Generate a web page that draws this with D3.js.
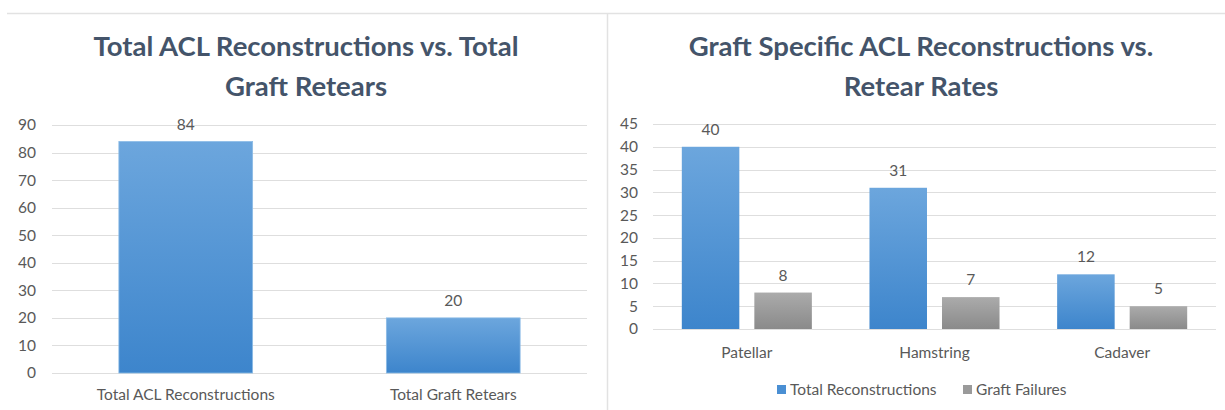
<!DOCTYPE html>
<html>
<head>
<meta charset="utf-8">
<script src="https://cdn.jsdelivr.net/npm/d3@7"></script>
<style>
  body { margin: 0; background: #fff; }
  text { font-family: Lato, "Open Sans", sans-serif; }
</style>
</head>
<body>
<svg id="chart" width="1225" height="410"></svg>
<script>
"use strict";

// left chart
var totalCategories = ["Total ACL Reconstructions", "Total Graft Retears"];
var totalValues = [84, 20];
var totalTicks = [0, 10, 20, 30, 40, 50, 60, 70, 80, 90];

// right chart
var graftCategories = ["Patellar", "Hamstring", "Cadaver"];
var seriesNames = ["Total Reconstructions", "Graft Failures"];
var reconstructions = [40, 31, 12];
var failures = [8, 7, 5];
var graftTicks = [0, 5, 10, 15, 20, 25, 30, 35, 40, 45];

var svg = d3.select("#chart");
var defs = svg.append("defs");
var smallFont = "15.5px";

function gradient(id, top, bottom) {
	var g = defs.append("linearGradient").attr("id", id)
		.attr("x1", 0).attr("y1", 0).attr("x2", 0).attr("y2", 1);
	g.append("stop").attr("offset", "0%").attr("stop-color", top);
	g.append("stop").attr("offset", "100%").attr("stop-color", bottom);
}
gradient("blueGrad", "#6ca6dd", "#3d85cc");
gradient("grayGrad", "#ababab", "#8a8a8a");

var seriesFill = ["url(#blueGrad)", "url(#grayGrad)"];
var legendColor = ["#4a8fd3", "#9a9a9a"];

// frame lines
svg.append("line").attr("x1", 7).attr("x2", 1225).attr("y1", 13.5).attr("y2", 13.5)
	.attr("stroke", "#e2e2e2").attr("stroke-width", 1.5);
svg.append("line").attr("x1", 607.5).attr("x2", 607.5).attr("y1", 13).attr("y2", 410)
	.attr("stroke", "#e2e2e2").attr("stroke-width", 1.5);

function title(cx, lines) {
	var t = svg.append("text")
		.attr("text-anchor", "middle")
		.attr("fill", "#44546a")
		.attr("font-weight", "bold")
		.attr("font-size", "27.5px");
	lines.forEach(function (s, i) {
		t.append("tspan").attr("x", cx).attr("y", 56 + i * 40).text(s);
	});
}

function yAxis(y, ticks, x0, x1, labelX) {
	var g = svg.append("g");
	g.selectAll("line.grid").data(ticks).enter().append("line")
		.attr("class", "grid")
		.attr("x1", x0).attr("x2", x1)
		.attr("y1", function (d) { return Math.round(y(d)) + 0.5; })
		.attr("y2", function (d) { return Math.round(y(d)) + 0.5; })
		.attr("stroke", "#dedede").attr("stroke-width", 1);
	g.selectAll("text").data(ticks).enter().append("text")
		.attr("x", labelX)
		.attr("y", function (d) { return y(d); })
		.attr("dy", "0.35em")
		.attr("text-anchor", "end")
		.attr("fill", "#595959")
		.attr("font-size", smallFont)
		.text(function (d) { return d; });
}

// ---- left chart ----
title(306, ["Total ACL Reconstructions vs. Total", "Graft Retears"]);

var yL = d3.scaleLinear().domain([0, 90]).range([373, 125]);
var xL = d3.scaleBand().domain(totalCategories).range([52, 587]).paddingInner(0.5).paddingOuter(0.25);

yAxis(yL, totalTicks, 52, 587, 36);

svg.append("g").selectAll("rect").data(totalValues).enter().append("rect")
	.attr("x", function (d, i) { return xL(totalCategories[i]); })
	.attr("width", xL.bandwidth())
	.attr("y", function (d) { return yL(d); })
	.attr("height", function (d) { return yL(0) - yL(d); })
	.attr("fill", "url(#blueGrad)")
	.attr("stroke", "#8bbbe6").attr("stroke-width", 0.8);

svg.append("g").selectAll("text").data(totalValues).enter().append("text")
	.attr("x", function (d, i) { return xL(totalCategories[i]) + xL.bandwidth() / 2; })
	.attr("y", function (d) { return yL(d) - 12; })
	.attr("text-anchor", "middle")
	.attr("fill", "#595959")
	.attr("font-size", smallFont)
	.text(function (d) { return d; });

svg.append("g").selectAll("text").data(totalCategories).enter().append("text")
	.attr("x", function (d) { return xL(d) + xL.bandwidth() / 2; })
	.attr("y", 400)
	.attr("text-anchor", "middle")
	.attr("fill", "#595959")
	.attr("font-size", smallFont)
	.text(function (d) { return d; });

// ---- right chart ----
title(921, ["Graft Specific ACL Reconstructions vs.", "Retear Rates"]);

var yR = d3.scaleLinear().domain([0, 45]).range([329, 124]);
var x0 = d3.scaleBand().domain(graftCategories).range([653, 1216]).paddingInner(0.307).paddingOuter(0.1535);
var x1 = d3.scaleBand().domain(seriesNames).range([0, x0.bandwidth()]).paddingInner(0.207);

yAxis(yR, graftTicks, 653, 1216, 638);

var rows = graftCategories.map(function (c, i) {
	return { cat: c, vals: [reconstructions[i], failures[i]] };
});

var groups = svg.append("g").selectAll("g").data(rows).enter().append("g")
	.attr("transform", function (d) { return "translate(" + x0(d.cat) + ",0)"; });

groups.selectAll("rect").data(function (d) { return d.vals; }).enter().append("rect")
	.attr("x", function (d, j) { return x1(seriesNames[j]); })
	.attr("width", x1.bandwidth())
	.attr("y", function (d) { return yR(d); })
	.attr("height", function (d) { return yR(0) - yR(d); })
	.attr("fill", function (d, j) { return seriesFill[j]; });

groups.selectAll("text").data(function (d) { return d.vals; }).enter().append("text")
	.attr("x", function (d, j) { return x1(seriesNames[j]) + x1.bandwidth() / 2; })
	.attr("y", function (d) { return yR(d) - 12; })
	.attr("text-anchor", "middle")
	.attr("fill", "#595959")
	.attr("font-size", smallFont)
	.text(function (d) { return d; });

svg.append("g").selectAll("text").data(graftCategories).enter().append("text")
	.attr("x", function (d) { return x0(d) + x0.bandwidth() / 2; })
	.attr("y", 358)
	.attr("text-anchor", "middle")
	.attr("fill", "#595959")
	.attr("font-size", smallFont)
	.text(function (d) { return d; });

// legend
var legend = svg.append("g").selectAll("g").data(seriesNames).enter().append("g")
	.attr("transform", function (d, i) { return "translate(" + (i === 0 ? 777 : 963) + ",390)"; });
legend.append("rect")
	.attr("x", 0).attr("y", -5).attr("width", 9).attr("height", 9)
	.attr("fill", function (d, i) { return legendColor[i]; });
legend.append("text")
	.attr("x", 13).attr("y", 0).attr("dy", "0.35em")
	.attr("fill", "#595959")
	.attr("font-size", smallFont)
	.text(function (d) { return d; });
</script>
</body>
</html>
